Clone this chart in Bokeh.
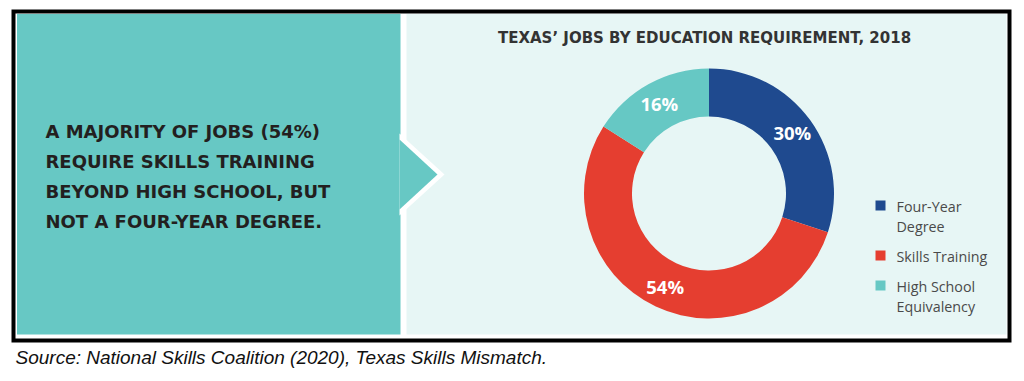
import numpy as np
from bokeh.plotting import figure
from bokeh.models import Range1d
from bokeh.core.properties import value
from bokeh.embed import file_html
from bokeh.resources import INLINE

# ---- data ----
categories = ["Four-Year\nDegree", "Skills Training", "High School\nEquivalency"]
shares = [30, 54, 16]
pct_labels = ["30%", "54%", "16%"]
colors = ["#1f4a8f", "#e53e30", "#66c8c4"]
title = "TEXAS’ JOBS BY EDUCATION REQUIREMENT, 2018"
headline = ["A MAJORITY OF JOBS (54%)", "REQUIRE SKILLS TRAINING",
            "BEYOND HIGH SCHOOL, BUT", "NOT A FOUR-YEAR DEGREE."]
source = "Source: National Skills Coalition (2020), Texas Skills Mismatch."

# ---- layout ----
W, H = 1016, 373
def Y(y):
    return H - y

p = figure(width=W, height=H, x_range=Range1d(0, W), y_range=Range1d(0, H),
           output_backend="svg", toolbar_location=None, min_border=0)
p.axis.visible = False
p.grid.visible = False
p.outline_line_color = None
p.background_fill_color = "white"
p.border_fill_color = "white"

TEAL_BG = "#67c8c4"
LIGHT_BG = "#e7f6f5"

# frame
p.quad(left=11, right=1011, top=Y(9), bottom=Y(342), fill_color="black", line_color=None)
p.quad(left=15, right=1007, top=Y(13), bottom=Y(338), fill_color="white", line_color=None)
p.quad(left=16.5, right=400, top=Y(13.5), bottom=Y(334), fill_color=TEAL_BG, line_color=None)
p.quad(left=406, right=1006, top=Y(13.5), bottom=Y(334), fill_color=LIGHT_BG, line_color=None)
# arrow
p.patch(x=[399, 444, 399], y=[Y(133), Y(174), Y(215)], fill_color="white", line_color=None)
p.patch(x=[399, 437, 399], y=[Y(139), Y(174), Y(209)], fill_color=TEAL_BG, line_color=None)

# headline
hl_y = [Y(130.5 + 30.3 * i) for i in range(len(headline))]
p.text(x=[45] * len(headline), y=hl_y, text=headline, text_font=value("DejaVu Sans"),
       text_font_style="bold", text_font_size="18px", text_color="#231f20",
       text_baseline="middle", text_align="left")

# title
p.text(x=[704], y=[Y(37)], text=[title], text_font=value("DejaVu Sans"), text_font_style="bold",
       text_font_size="15px", text_color="#333333", text_baseline="middle", text_align="center")

# donut
cx, cy = 708.5, Y(193)
r_in, r_out = 77, 125
fr = np.array(shares, dtype=float) / np.sum(shares)
cum = np.concatenate([[0], np.cumsum(fr)])
start = np.pi / 2 - 2 * np.pi * cum[:-1]
end = np.pi / 2 - 2 * np.pi * cum[1:]
p.annular_wedge(x=cx, y=cy, inner_radius=r_in, outer_radius=r_out, start_angle=start,
                end_angle=end, direction="clock", fill_color=colors, line_color=None)
mid = (start + end) / 2
r_lab = (r_in + r_out) / 2 + 2
p.text(x=cx + r_lab * np.cos(mid), y=cy + r_lab * np.sin(mid), text=pct_labels,
       text_font=value("Open Sans"), text_font_style="bold", text_font_size="18.5px",
       text_color="white", text_align="center", text_baseline="middle")

# legend
ly = 206
sq_x, sq_y, tx, ty, tt = [], [], [], [], []
for cat in categories:
    lines = cat.split("\n")
    sq_x.append(880)
    sq_y.append(Y(ly - 1))
    for i, ln in enumerate(lines):
        tx.append(896)
        ty.append(Y(ly + 20 * i))
        tt.append(ln)
    ly += 20 * len(lines) + 10
p.rect(x=sq_x, y=sq_y, width=10, height=10, fill_color=colors, line_color=None)
p.text(x=tx, y=ty, text=tt, text_font=value("Open Sans"), text_font_size="14.3px",
       text_color="#4a4a4a", text_baseline="middle", text_align="left")

# source
p.text(x=[15], y=[Y(357)], text=[source], text_font=value("Liberation Sans"),
       text_font_style="italic", text_font_size="19px", text_color="#111111",
       text_baseline="middle", text_align="left")

open("out.html", "w").write(file_html(p, INLINE))
